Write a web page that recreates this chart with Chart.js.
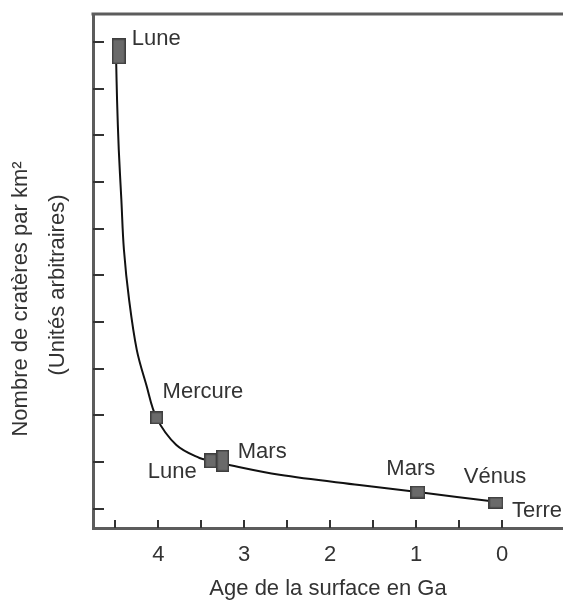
<!DOCTYPE html>
<html>
<head>
<meta charset="utf-8">
<script src="https://cdn.jsdelivr.net/npm/chart.js@4.4.1/dist/chart.umd.min.js"></script>
<style>
html, body { margin: 0; padding: 0; background: #fff; }
#wrap { width: 563px; height: 603px; }
</style>
</head>
<body>
<div id="wrap"><canvas id="chart" width="563" height="603"></canvas></div>
<script>
// surfaces datées (âge en Ga, cratères en unités arbitraires)
const ages = [4.46, 4.02, 3.39, 3.25, 0.98, 0.07];
const craters = [9.8, 1.95, 1.03, 1.03, 0.36, 0.13];
const bodies = [["Lune"], ["Mercure"], ["Lune"], ["Mars"], ["Mars"], ["Vénus", "Terre"]];

// courbe
const curveAges = [4.49, 4.48, 4.46, 4.43, 4.40, 4.34, 4.25, 4.14, 4.02, 3.79, 3.52, 3.39, 3.23, 2.59, 1.66, 0.98, 0.07];
const curveCraters = [9.55, 8.76, 7.69, 6.62, 5.55, 4.48, 3.40, 2.66, 1.95, 1.37, 1.09, 1.03, 0.96, 0.73, 0.51, 0.36, 0.15];

const xTicks = [4.5, 4, 3.5, 3, 2.5, 2, 1.5, 1, 0.5, 0];
const yTicks = [0, 1, 2, 3, 4, 5, 6, 7, 8, 9, 10];

const xTitle = "Age de la surface en Ga";
const yTitle = ["Nombre de cratères par km²", "(Unités arbitraires)"];

// styles
const FONT = "Liberation Sans, Arial, sans-serif";
const TEXT = "#333";
const AXIS = "#5c5c5c";
const boxSizes = [[14, 26], [13, 13], [13, 15], [13, 22], [15, 13], [15, 12]];
const labelPos = [
    [{ dx: 13, dy: -6, align: "left" }],
    [{ dx: 6, dy: -20, align: "left" }],
    [{ dx: -14, dy: 17, align: "right" }],
    [{ dx: 15, dy: -3, align: "left" }],
    [{ dx: -7, dy: -17, align: "center" }],
    [{ dx: -1, dy: -20, align: "center" }, { dx: 16, dy: 14, align: "left" }]
];

function makeBox(w, h) {
    const c = document.createElement("canvas");
    c.width = w;
    c.height = h;
    const g = c.getContext("2d");
    g.fillStyle = "#6a6a6a";
    g.fillRect(0, 0, w, h);
    g.strokeStyle = "#3e3e3e";
    g.lineWidth = 1.5;
    g.strokeRect(0.75, 0.75, w - 1.5, h - 1.5);
    return c;
}

const frame = {
    id: "frame",
    afterDraw(chart) {
        const ctx = chart.ctx;
        const area = chart.chartArea;
        const xs = chart.scales.x;
        const ys = chart.scales.y;
        ctx.save();
        // ligne du haut
        ctx.strokeStyle = AXIS;
        ctx.lineWidth = 3;
        ctx.beginPath();
        ctx.moveTo(area.left - 1.5, area.top);
        ctx.lineTo(chart.width, area.top);
        ctx.stroke();
        // graduations vers l'intérieur
        ctx.strokeStyle = "#333";
        ctx.lineWidth = 2;
        xs.ticks.forEach(t => {
            const px = Math.round(xs.getPixelForValue(t.value));
            ctx.beginPath();
            ctx.moveTo(px, area.bottom);
            ctx.lineTo(px, area.bottom - 8);
            ctx.stroke();
        });
        ys.ticks.forEach(t => {
            const py = Math.round(ys.getPixelForValue(t.value));
            ctx.beginPath();
            ctx.moveTo(area.left, py);
            ctx.lineTo(area.left + 11, py);
            ctx.stroke();
        });
        // titre vertical
        ctx.fillStyle = TEXT;
        ctx.font = "22px " + FONT;
        ctx.textAlign = "center";
        ctx.textBaseline = "middle";
        [[21, 299], [58, 285]].forEach((p, i) => {
            ctx.save();
            ctx.translate(p[0], p[1]);
            ctx.rotate(-Math.PI / 2);
            ctx.fillText(yTitle[i], 0, 0);
            ctx.restore();
        });
        // noms des planètes
        const meta = chart.getDatasetMeta(0);
        ctx.textBaseline = "alphabetic";
        meta.data.forEach((pt, i) => {
            bodies[i].forEach((name, j) => {
                const o = labelPos[i][j];
                ctx.textAlign = o.align;
                ctx.fillText(name, pt.x + o.dx, pt.y + o.dy);
            });
        });
        ctx.restore();
    }
};

new Chart(document.getElementById("chart"), {
    type: "scatter",
    data: {
        datasets: [
            {
                data: ages.map((a, i) => ({ x: a, y: craters[i] })),
                pointStyle: boxSizes.map(s => makeBox(s[0], s[1])),
                pointRadius: 8
            },
            {
                data: curveAges.map((a, i) => ({ x: a, y: curveCraters[i] })),
                showLine: true,
                tension: 0.35,
                borderColor: "#111",
                borderWidth: 2,
                pointRadius: 0
            }
        ]
    },
    options: {
        responsive: false,
        animation: false,
        layout: { autoPadding: false, padding: { top: 14, right: 0, left: 0, bottom: 0 } },
        plugins: { legend: { display: false }, tooltip: { enabled: false } },
        scales: {
            x: {
                type: "linear",
                reverse: true,
                min: -0.71,
                max: 4.76,
                afterBuildTicks: s => { s.ticks = xTicks.map(v => ({ value: v })); },
                afterFit: s => { s.height = 75; },
                grid: { display: false, drawTicks: false },
                border: { display: true, color: AXIS, width: 3 },
                ticks: {
                    autoSkip: false,
                    maxRotation: 0,
                    padding: 14,
                    color: TEXT,
                    font: { family: FONT, size: 22 },
                    callback: v => Number.isInteger(v) ? String(v) : ""
                },
                title: {
                    display: true,
                    text: xTitle,
                    color: TEXT,
                    font: { family: FONT, size: 22 },
                    padding: { top: 0, bottom: 1 }
                }
            },
            y: {
                type: "linear",
                min: -0.41,
                max: 10.6,
                afterBuildTicks: s => { s.ticks = yTicks.map(v => ({ value: v })); },
                afterFit: s => { s.width = 93; },
                grid: { display: false, drawTicks: false },
                border: { display: true, color: AXIS, width: 3 },
                ticks: { display: false }
            }
        }
    },
    plugins: [frame]
});
</script>
</body>
</html>
